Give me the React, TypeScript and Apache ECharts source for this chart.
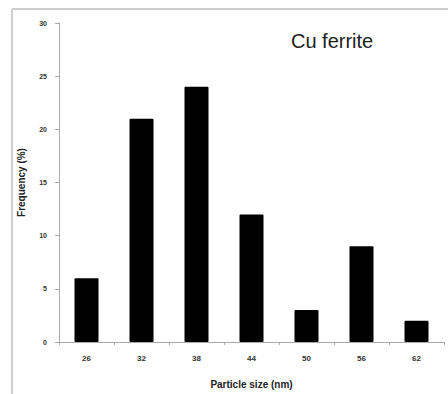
import React, { useEffect, useRef } from "react";
import * as echarts from "echarts";

const categories = ["26", "32", "38", "44", "50", "56", "62"];
const frequency = [6, 21, 24, 12, 3, 9, 2];
const chartLabel = "Cu ferrite";
const xTitle = "Particle size (nm)";
const yTitle = "Frequency (%)";

export default function App() {
  const ref = useRef<HTMLDivElement>(null);
  useEffect(() => {
    const chart = echarts.init(ref.current!, null, { renderer: "svg" });
    chart.setOption({
      animation: false,
      backgroundColor: "#fff",
      graphic: [
        { type: "line", shape: { x1: 12, y1: 9, x2: 12, y2: 394 }, style: { stroke: "#cfcfcf", lineWidth: 2 } },
        { type: "line", shape: { x1: 12, y1: 9, x2: 448, y2: 9 }, style: { stroke: "#cfcfcf", lineWidth: 2 } },
        {
          type: "text",
          x: 291,
          y: 31,
          style: { text: chartLabel, fontSize: 20, fontFamily: "Liberation Sans, Arial", fill: "#222" },
        },
      ],
      grid: { left: 59, right: 4, top: 23, bottom: 51 },
      xAxis: {
        type: "category",
        data: categories,
        name: xTitle,
        nameLocation: "middle",
        nameGap: 37,
        nameTextStyle: { fontSize: 10, fontWeight: "bold", color: "#222", fontFamily: "Liberation Sans, Arial" },
        axisLine: { lineStyle: { color: "#aaa", width: 1 } },
        axisTick: { show: true, alignWithLabel: false, length: 3, lineStyle: { color: "#aaa" } },
        axisLabel: { fontSize: 8, color: "#333", fontWeight: "bold", margin: 12, fontFamily: "Liberation Sans, Arial" },
      },
      yAxis: {
        type: "value",
        min: 0,
        max: 30,
        interval: 5,
        name: yTitle,
        nameLocation: "middle",
        nameGap: 33,
        nameTextStyle: { fontSize: 10, fontWeight: "bold", color: "#222", fontFamily: "Liberation Sans, Arial" },
        axisLine: { show: true, lineStyle: { color: "#aaa", width: 1 } },
        axisTick: { show: true, length: 4, lineStyle: { color: "#aaa" } },
        splitLine: { show: false },
        axisLabel: { fontSize: 7, color: "#333", fontWeight: "bold", margin: 12, fontFamily: "Liberation Sans, Arial" },
      },
      series: [
        {
          type: "bar",
          data: frequency,
          barWidth: 24,
          itemStyle: { color: "#000", borderRadius: 1 },
        },
      ],
    });
    return () => chart.dispose();
  }, []);
  return <div ref={ref} style={{ width: 448, height: 394, position: "absolute", left: 0, top: 0 }} />;
}
